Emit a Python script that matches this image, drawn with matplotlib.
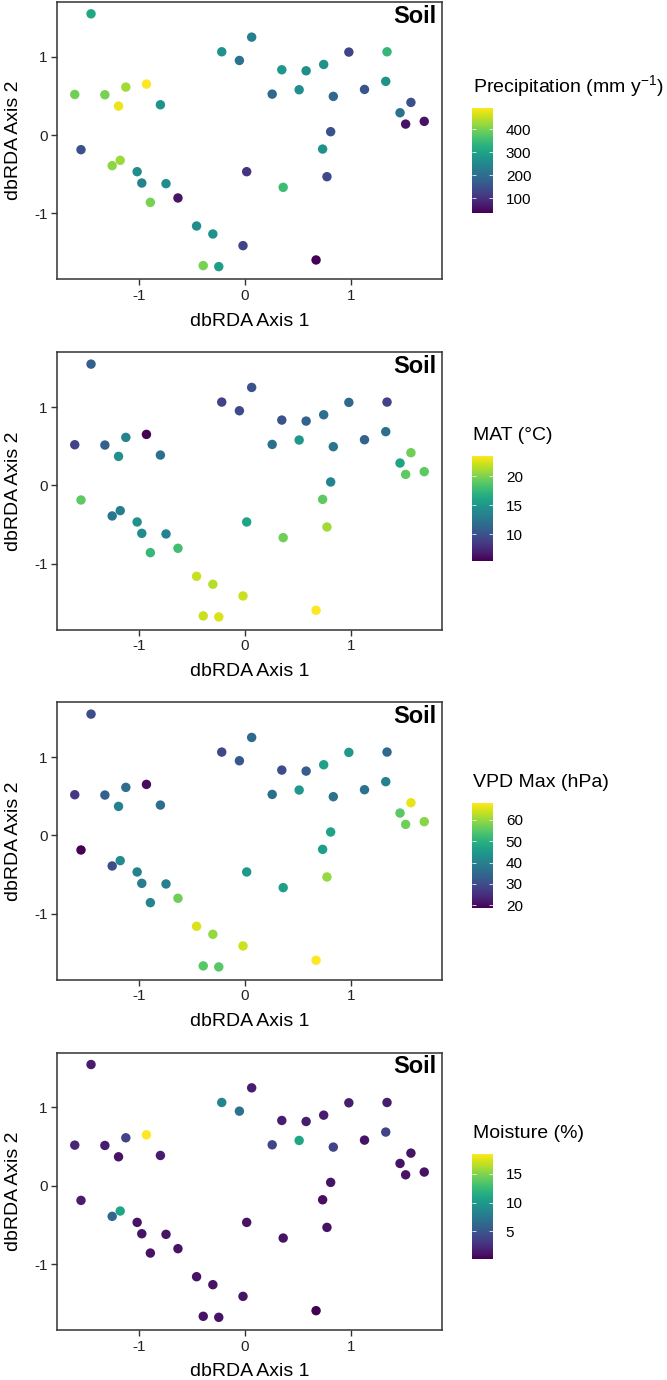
import matplotlib
matplotlib.use("Agg")
import matplotlib.pyplot as plt
import numpy as np

plt.rcParams['font.family'] = ['Liberation Sans', 'DejaVu Sans']
plt.rcParams['axes.unicode_minus'] = False
plt.rcParams['mathtext.fontset'] = 'custom'
plt.rcParams['mathtext.rm'] = 'Liberation Sans'
plt.rcParams['mathtext.it'] = 'Liberation Sans:italic'

# dbRDA site scores (same ordination in every panel)
axis1 = [-1.456, 0.063, -0.220, -0.053, 0.982, 0.348, 0.578, 0.744, 0.257, 0.512,
         0.835, -1.610, -1.325, -1.127, -0.932, -1.196, -0.800, -1.551, 0.810, 0.734,
         -1.256, -1.180, -1.020, -0.976, -0.747, 0.016, 0.775, 0.361, -0.895, -0.634,
         -0.458, -0.304, -0.019, -0.395, -0.248, 0.672, 1.343, 1.331, 1.130, 1.569,
         1.466, 1.519, 1.695]
axis2 = [1.549, 1.251, 1.064, 0.953, 1.060, 0.834, 0.821, 0.902, 0.523, 0.579,
         0.494, 0.519, 0.515, 0.613, 0.651, 0.370, 0.387, -0.187, 0.043, -0.179,
         -0.391, -0.323, -0.468, -0.613, -0.621, -0.468, -0.532, -0.668, -0.860, -0.804,
         -1.162, -1.264, -1.413, -1.668, -1.681, -1.596, 1.064, 0.686, 0.583, 0.417,
         0.285, 0.140, 0.175]

# environmental variables
precip = [310, 230, 270, 210, 130, 280, 260, 270, 190, 260,
          190, 395, 400, 430, 494, 480, 270, 150, 150, 270,
          415, 425, 260, 240, 260, 105, 140, 350, 400, 60,
          260, 270, 130, 400, 290, 37, 340, 270, 160, 150,
          210, 60, 60]
mat = [10.8, 10, 9, 9.5, 11.5, 10, 11, 12, 12, 15,
       12.5, 9, 11, 13.5, 5.4, 14.5, 12, 19, 13.5, 19,
       12.5, 13, 14.5, 14, 13.5, 16, 21, 19.5, 17.5, 18,
       22, 21.5, 22, 22, 22.5, 23.5, 9, 12, 11, 19.5,
       16, 19, 19]
vpd = [30, 35, 29, 32, 45, 30, 33, 47, 36, 45,
       37, 27, 34, 36, 20, 40, 36, 18.6, 47, 46,
       30, 42, 40, 39, 40, 45, 60, 46, 41, 57,
       65, 60, 64, 55, 55, 67.8, 35, 40, 37, 66,
       55, 57, 59]
moisture = [1.5, 1.5, 8.4, 7, 1.5, 1.5, 1.5, 1.5, 4, 11,
            3.8, 2, 1.5, 3.8, 18.5, 1, 1.5, 1.5, 1, 0.8,
            6.2, 11, 1, 1, 1, 1, 1, 1, 1, 1,
            1, 1, 1, 1, 1, 0.1, 1.5, 3.8, 1, 1,
            1, 1, 1]

variables = [precip, mat, vpd, moisture]
titles = ['Precipitation (mm y$^{-1}$)', 'MAT (\u00b0C)', 'VPD Max (hPa)', 'Moisture (%)']
cbar_ticks = [[100, 200, 300, 400], [10, 15, 20], [20, 30, 40, 50, 60], [5, 10, 15]]

W, H = 667, 1380
fig = plt.figure(figsize=(W / 100, H / 100), dpi=100)

# panel geometry in pixels
ax_left, ax_right = 57.3, 441.7
panel_tops = [2, 352.3, 702.3, 1052.7]
panel_h = 277.3
cbar_tops = [107.7, 455.7, 803.3, 1154]
cbar_h = 105
cb_left, cb_w = 472.3, 21

for i in range(4):
    top = panel_tops[i]
    ax = fig.add_axes([ax_left / W, 1 - (top + panel_h) / H,
                       (ax_right - ax_left) / W, panel_h / H])
    vals = variables[i]
    sc = ax.scatter(axis1, axis2, c=vals, cmap='viridis', s=46, linewidths=0,
                    vmin=min(vals), vmax=max(vals), zorder=3)
    ax.set_xlim(-1.775, 1.86)
    ax.set_ylim(-1.843, 1.70)
    ax.set_xticks([-1, 0, 1])
    ax.set_yticks([-1, 0, 1])
    ax.tick_params(direction='out', length=4, width=1, color='#333333',
                   labelsize=11, labelcolor='#222222', pad=3)
    for sp in ax.spines.values():
        sp.set_color('#333333')
        sp.set_linewidth(1.1)
    ax.set_xlabel('dbRDA Axis 1', fontsize=14, labelpad=7)
    ax.set_ylabel('dbRDA Axis 2', fontsize=14, labelpad=9)
    ax.text(1 - 5 / (ax_right - ax_left), 1 - 20.7 / panel_h, 'Soil',
            transform=ax.transAxes, ha='right', va='baseline',
            fontsize=17, fontweight='bold')

    # colorbar
    ct = cbar_tops[i]
    cax = fig.add_axes([cb_left / W, 1 - (ct + cbar_h) / H, cb_w / W, cbar_h / H])
    cb = fig.colorbar(sc, cax=cax)
    cb.outline.set_visible(False)
    cb.set_ticks(cbar_ticks[i])
    cax.yaxis.set_ticks_position('both')
    cax.tick_params(axis='y', which='both', direction='in', length=3, width=0.6,
                    color='#eeeeee', labelsize=11, pad=9, labelright=True, labelleft=False)
    fig.text(472.7 / W, 1 - (ct - 16) / H, titles[i], fontsize=14,
             ha='left', va='baseline')

fig.savefig('out.png', dpi=100)
